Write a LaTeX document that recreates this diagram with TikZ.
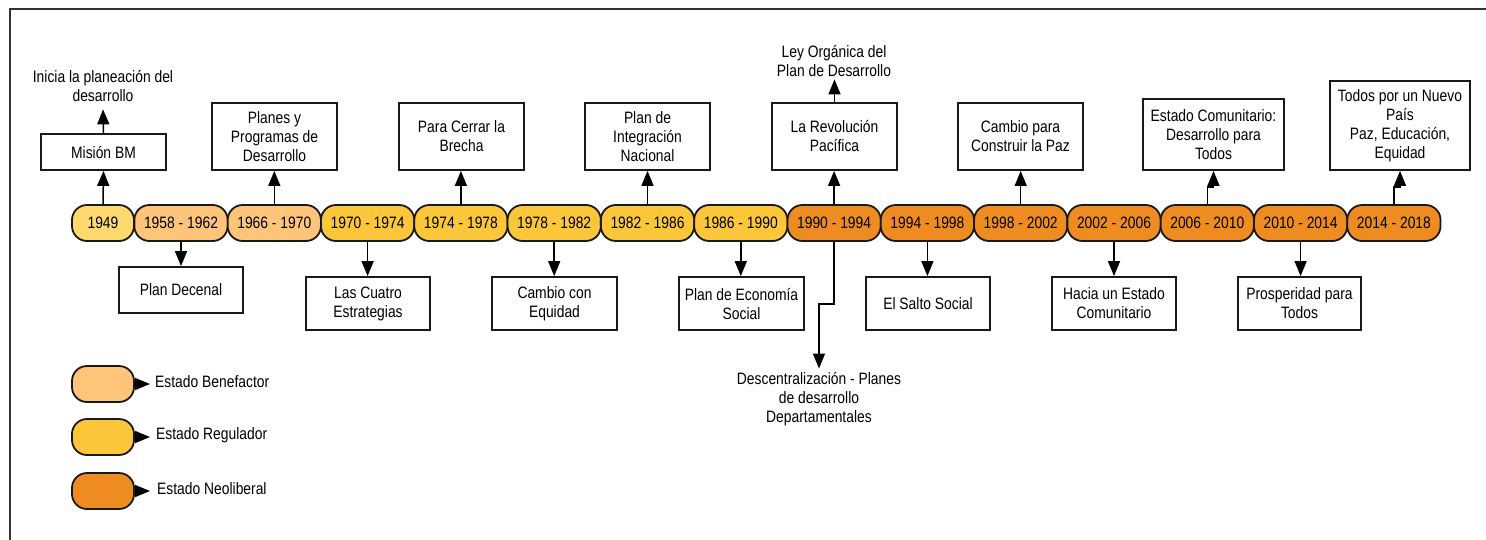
\documentclass[tikz,border=0pt]{standalone}
\usepackage{fontspec}
\setmainfont{Liberation Sans}[FakeStretch=0.84]
\usetikzlibrary{arrows.meta}
\definecolor{cFirst}{HTML}{FEDA6E}
\definecolor{cBen}{HTML}{FDC47A}
\definecolor{cReg}{HTML}{FCC63A}
\definecolor{cNeo}{HTML}{EE8C22}
\definecolor{frameC}{HTML}{333333}
\begin{document}
\begin{tikzpicture}[x=1pt,y=-1pt,
  every node/.style={font=\fontsize{16.5}{19}\selectfont, text=black},
  pill/.style={draw=black!90, line width=1.8pt, rounded corners=15pt, minimum height=36pt, minimum width=93.3pt, inner sep=0pt},
  box/.style={draw=black!90, line width=1.8pt, fill=white, align=center, inner sep=2pt},
  note/.style={align=center, inner sep=2pt},
  arr/.style={line width=1.5pt, arrows={-Triangle[length=15pt,width=12pt]}}
]
\useasboundingbox (0,0) rectangle (1486,539);
\draw[frameC, line width=2pt] (10,540) -- (10,9) -- (1487,9);

% timeline pills
\node[pill, fill=cFirst, minimum width=62pt] (p0) at (103,223) {1949};
\node[pill, fill=cBen] (p1) at (181.0,223) {1958 - 1962};
\node[pill, fill=cBen] (p2) at (274.3,223) {1966 - 1970};
\node[pill, fill=cReg] (p3) at (367.6,223) {1970 - 1974};
\node[pill, fill=cReg] (p4) at (460.9,223) {1974 - 1978};
\node[pill, fill=cReg] (p5) at (554.2,223) {1978 - 1982};
\node[pill, fill=cReg] (p6) at (647.5,223) {1982 - 1986};
\node[pill, fill=cReg] (p7) at (740.8,223) {1986 - 1990};
\node[pill, fill=cNeo] (p8) at (834.1,223) {1990 - 1994};
\node[pill, fill=cNeo] (p9) at (927.4,223) {1994 - 1998};
\node[pill, fill=cNeo] (p10) at (1020.7,223) {1998 - 2002};
\node[pill, fill=cNeo] (p11) at (1114.0,223) {2002 - 2006};
\node[pill, fill=cNeo] (p12) at (1207.3,223) {2006 - 2010};
\node[pill, fill=cNeo] (p13) at (1300.6,223) {2010 - 2014};
\node[pill, fill=cNeo] (p14) at (1393.9,223) {2014 - 2018};

% boxes above
\node[box, minimum width=125pt, minimum height=36pt] (mision) at (103.5,152) {Misión BM};
\node[box, minimum width=125pt, minimum height=67pt] (planes) at (274.5,136.5) {Planes y\\Programas de\\Desarrollo};
\node[box, minimum width=125pt, minimum height=67pt] (cerrar) at (461.5,136.5) {Para Cerrar la\\Brecha};
\node[box, minimum width=125pt, minimum height=67pt] (integ) at (647.5,136.5) {Plan de\\Integración\\Nacional};
\node[box, minimum width=125pt, minimum height=67pt] (revol) at (834.5,136.5) {La Revolución\\Pacífica};
\node[box, minimum width=125pt, minimum height=67pt] (paz) at (1020.5,136.5) {Cambio para\\Construir la Paz};
\node[box, minimum width=141pt, minimum height=71pt] (comun) at (1213.5,134.5) {Estado Comunitario:\\Desarrollo para\\Todos};
\node[box, minimum width=140pt, minimum height=89pt] (todos) at (1400,125.5) {Todos por un Nuevo\\País\\Paz, Educación,\\Equidad};

% boxes below
\node[box, minimum width=124pt, minimum height=46pt] (decenal) at (181,290) {Plan Decenal};
\node[box, minimum width=124pt, minimum height=53pt] (cuatro) at (368,303.5) {Las Cuatro\\Estrategias};
\node[box, minimum width=125pt, minimum height=53pt] (equidad) at (554.5,303.5) {Cambio con\\Equidad};
\node[box, minimum width=125pt, minimum height=53pt] (econ) at (741.5,303.5) {Plan de Economía\\Social};
\node[box, minimum width=124pt, minimum height=53pt] (salto) at (928,303.5) {El Salto Social};
\node[box, minimum width=124pt, minimum height=53pt] (hacia) at (1114,303.5) {Hacia un Estado\\Comunitario};
\node[box, minimum width=123pt, minimum height=53pt] (prosp) at (1299.5,303.5) {Prosperidad para\\Todos};

% free notes
\node[note, inner ysep=7pt] (inicia) at (103,86.5) {Inicia la planeación del\\desarrollo};
\node[note] (ley) at (834,61.5) {Ley Orgánica del\\Plan de Desarrollo};
\node[note, inner ysep=4pt] (desc) at (819,399.5) {Descentralización - Planes\\de desarrollo\\Departamentales};

% connectors up
\draw[arr] (p0.north) -- (mision.south);
\draw[arr] (mision.north) -- (inicia.south);
\draw[arr] (p2.north) -- (p2.north |- planes.south);
\draw[arr] (p4.north) -- (p4.north |- cerrar.south);
\draw[arr] (p6.north) -- (p6.north |- integ.south);
\draw[arr] (p8.north) -- (p8.north |- revol.south);
\draw[arr] (revol.north) -- (revol.north |- ley.south);
\draw[arr] (p10.north) -- (p10.north |- paz.south);
\draw[arr] (p12.north) -- ++(0,-17) -| (comun.south);
\draw[arr] (p14.north) -- ++(0,-17) -| (todos.south);

% connectors down
\draw[arr] (p1.south) -- (p1.south |- decenal.north);
\draw[arr] (p3.south) -- (p3.south |- cuatro.north);
\draw[arr] (p5.south) -- (p5.south |- equidad.north);
\draw[arr] (p7.south) -- (p7.south |- econ.north);
\draw[arr] (p8.south) -- ++(0,62) -| (desc.north);
\draw[arr] (p9.south) -- (p9.south |- salto.north);
\draw[arr] (p11.south) -- (p11.south |- hacia.north);
\draw[arr] (p13.south) -- (p13.south |- prosp.north);

% legend
\node[pill, fill=cBen, minimum width=62pt] (l1) at (103,384) {};
\node[pill, fill=cReg, minimum width=62pt] (l2) at (103,437) {};
\node[pill, fill=cNeo, minimum width=62pt] (l3) at (103,491) {};
\node[anchor=west, inner xsep=5pt] (t1) at (150,382) {Estado Benefactor};
\node[anchor=west, inner xsep=6pt] (t2) at (150,435) {Estado Regulador};
\node[anchor=west, inner xsep=7pt] (t3) at (150,489) {Estado Neoliberal};
\draw[arr] (l1.east) -- (t1.west |- l1.east);
\draw[arr] (l2.east) -- (t2.west |- l2.east);
\draw[arr] (l3.east) -- (t3.west |- l3.east);
\end{tikzpicture}
\end{document}
